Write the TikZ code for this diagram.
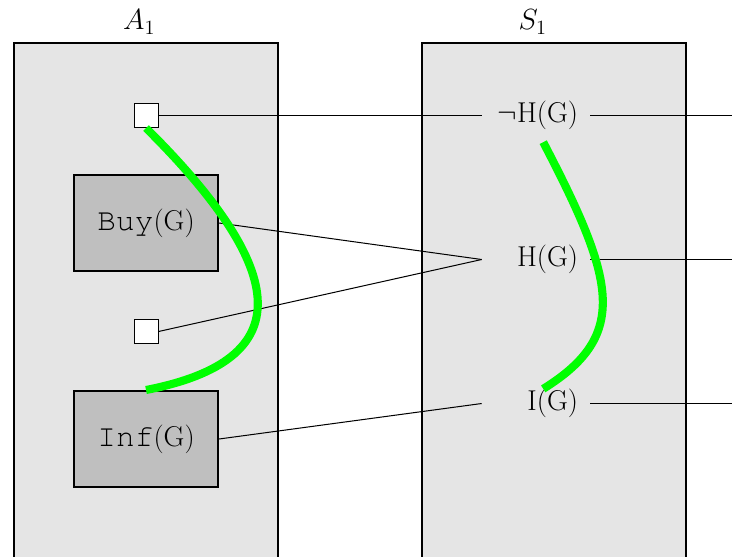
\documentclass[tikz,border=0pt]{standalone}
\usepackage[T1,TU]{fontenc}
\newcommand{\ctt}[1]{{\fontencoding{T1}\fontfamily{pcr}\fontsize{18.5}{20}\selectfont #1}}
\begin{document}
\begin{tikzpicture}[font=\fontsize{17}{20}\selectfont,
	agentbox/.style={draw, line width=1.2pt, fill=black!10},
	slot/.style={draw, fill=white, minimum size=0.5cm, inner sep=0pt, line width=0.6pt},
	action/.style={draw, line width=1.2pt, fill=black!25, minimum width=3cm, minimum height=2cm},
	fact/.style={text width=1.75cm, align=right, inner xsep=0.25cm, inner ysep=0.25cm},
	link/.style={line width=0.6pt},
	trace/.style={line width=4.8pt, green}]
	\clip (0,0) rectangle (15.25,11.5833);
	\draw[agentbox] (0.292,-1) rectangle (5.792,10.6875); %agent
	\draw[agentbox] (8.792,-1) rectangle (14.292,10.6875); %state

	\node at (2.9,11.125) (alabel) {$A_1$};
	\node at (11.1,11.125) (slabel) {$S_1$};

	\node[slot] at (3.042,9.177) (slot1) {};
	\node[action] at (3.042,6.9375) (buy) {\ctt{Buy}(G)};
	\node[slot] at (3.042,4.677) (slot2) {};
	\node[action] at (3.042,2.4375) (inf) {\ctt{Inf}(G)};

	\node[fact] at (11.167,9.177) (nothung) {$\neg$H(G)};
	\node[fact] at (11.167,6.177) (hung) {H(G)};
	\node[fact] at (11.167,3.177) (infd) {I(G)};

	\coordinate (out1) at (15.6,9.177);
	\coordinate (out2) at (15.6,6.177);
	\coordinate (out3) at (15.6,3.177);

	\draw[link] (slot1) -- (nothung);
	\draw[link] (buy.east) -- (hung.west);
	\draw[link] (slot2.east) -- (hung.west);
	\draw[link] (inf.east) -- (infd.west);
	\draw[link] (nothung) -- (out1);
	\draw[link] (hung) -- (out2);
	\draw[link] (infd) -- (out3);

	% runs
	\draw[trace] (slot1.south) .. controls (6.042,5.9375) and (6.25,4.083) .. (inf.north);
	\draw[trace] ([xshift=0.15cm]nothung.south) .. controls (12.8125,5.75) and (13.125,4.604) .. ([xshift=0.15cm,yshift=-0.25cm]infd.north);
\end{tikzpicture}
\end{document}
